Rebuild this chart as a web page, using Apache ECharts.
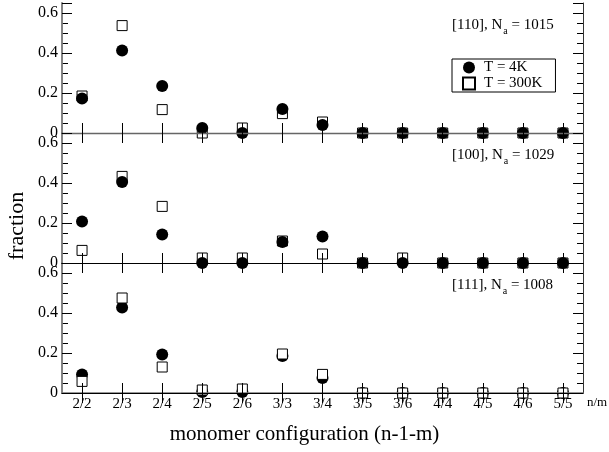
<!DOCTYPE html>
<html>
<head>
<meta charset="utf-8">
<script src="https://cdn.jsdelivr.net/npm/echarts@6/dist/echarts.min.js"></script>
<style>
  html, body { margin: 0; padding: 0; background: #fff; }
  #chart { width: 609px; height: 452px; }
</style>
</head>
<body>
<div id="chart"></div>
<script>
// Monomer configuration categories (n-1-m)
const categories = ['2/2', '2/3', '2/4', '2/5', '2/6', '3/3', '3/4', '3/5', '3/6', '4/4', '4/5', '4/6', '5/5'];

// [110] surface, Na = 1015
const f110_T4 = [0.173, 0.413, 0.235, 0.025, 0.0, 0.12, 0.04, 0, 0, 0, 0, 0, 0];
const f110_T300 = [0.185, 0.537, 0.117, 0.0, 0.025, 0.097, 0.055, 0, 0, 0, 0, 0, 0];
// [100] surface, Na = 1029
const f100_T4 = [0.208, 0.405, 0.143, 0, 0, 0.105, 0.132, 0, 0, 0, 0, 0, 0];
const f100_T300 = [0.063, 0.433, 0.283, 0.025, 0.025, 0.11, 0.045, 0, 0.025, 0, 0, 0, 0];
// [111] surface, Na = 1008
const f111_T4 = [0.092, 0.428, 0.193, 0.005, 0.005, 0.185, 0.075, 0, 0, 0, 0, 0, 0];
const f111_T300 = [0.058, 0.475, 0.13, 0.015, 0.02, 0.195, 0.093, 0, 0, 0, 0, 0, 0];

const panelLabels = ['[110], N', '[100], N', '[111], N'];
const panelCounts = ['1015', '1029', '1008'];
const yTicks = [0, 0.2, 0.4, 0.6];

const FONT = "'Liberation Serif', 'Times New Roman', serif";
const chart = echarts.init(document.getElementById('chart'));

const panels = [
  { t4: f110_T4, t300: f110_T300, circlesOnTop: true },
  { t4: f100_T4, t300: f100_T300, circlesOnTop: true },
  { t4: f111_T4, t300: f111_T300, circlesOnTop: false }
];

const gridTop = [3, 133, 263];
const gridH = 130;
const grids = [], xAxes = [], yAxes = [], series = [];

panels.forEach((p, i) => {
  grids.push({ left: 62, right: 26, top: gridTop[i], height: gridH });
  const last = i === 2;
  // bottom x axis
  xAxes.push({
    type: 'category', gridIndex: i, data: categories, position: 'bottom',
    boundaryGap: true,
    axisLine: { show: true, lineStyle: { color: last ? '#777' : '#000', width: last ? 1.6 : 1 } },
    axisTick: { show: true, inside: true, length: 10, alignWithLabel: true, lineStyle: { color: '#000' } },
    axisLabel: { show: last, color: '#000', fontFamily: FONT, fontSize: 15, margin: 4 },
    splitLine: { show: false }, z: 5
  });
  // top x axis (ticks only)
  xAxes.push({
    type: 'category', gridIndex: i, data: categories, position: 'top',
    boundaryGap: true,
    axisLine: { show: true, lineStyle: { color: i === 0 ? '#666' : '#000', width: i === 0 ? 1.4 : 1 } },
    axisTick: { show: true, inside: true, length: 10, alignWithLabel: true, lineStyle: { color: '#000' } },
    axisLabel: { show: false }, splitLine: { show: false }, z: 5
  });
  const major = (pos) => ({
    type: 'value', gridIndex: i, position: pos, min: 0, max: 0.65, interval: 0.2,
    axisLine: { show: true, lineStyle: { color: pos === 'left' ? '#777' : '#333', width: pos === 'left' ? 1.8 : 1 } },
    axisTick: { show: true, inside: true, length: 10, lineStyle: { color: '#000' } },
    axisLabel: {
      show: pos === 'left', color: '#000', fontFamily: FONT, fontSize: 16, margin: 4,
      formatter: (v) => {
        const hit = yTicks.find(t => Math.abs(t - v) < 1e-6);
        if (hit === undefined) return '';
        return hit === 0 ? '0' : hit.toFixed(1);
      }
    },
    splitLine: { show: false }, z: 5
  });
  const minor = (pos) => ({
    type: 'value', gridIndex: i, position: pos, min: 0, max: 0.65, interval: 0.05,
    axisLine: { show: false },
    axisTick: { show: true, inside: true, length: 6, lineStyle: { color: '#000' } },
    axisLabel: { show: false }, splitLine: { show: false }, z: 4
  });
  yAxes.push(major('left'), minor('left'), major('right'), minor('right'));

  const xi = i * 2, yi = i * 4;
  series.push({
    name: 'T = 4K', type: 'scatter', xAxisIndex: xi, yAxisIndex: yi,
    data: p.t4, symbol: 'circle', symbolSize: 12,
    itemStyle: { color: '#000', opacity: 1 },
    z: p.circlesOnTop ? 4 : 2, silent: true
  });
  series.push({
    name: 'T = 300K', type: 'scatter', xAxisIndex: xi, yAxisIndex: yi,
    data: p.t300, symbol: 'rect', symbolSize: 10,
    itemStyle: { color: '#fff', borderColor: '#000', borderWidth: 1, opacity: 1 },
    z: 3, silent: true
  });
});

const graphics = [];
gridTop.forEach((top, i) => {
  graphics.push({
    type: 'text', left: 452, top: top + 15,
    style: {
      text: '{m|' + panelLabels[i] + '}{s|a}{m| = ' + panelCounts[i] + '}',
      rich: {
        m: { fontFamily: FONT, fontSize: 15, fill: '#000' },
        s: { fontFamily: FONT, fontSize: 10, fill: '#000', padding: [11, 0, 0, 1] }
      }
    }
  });
});
graphics.push({
  type: 'text', left: 587, top: 396,
  style: { text: 'n/m', fontFamily: FONT, fontSize: 13, fill: '#000' }
});
graphics.push({
  type: 'text', left: 'center', top: 424,
  style: { text: 'monomer configuration (n-1-m)', fontFamily: FONT, fontSize: 21, fill: '#000' }
});
graphics.push({
  type: 'text', left: 6, top: 'middle', rotation: Math.PI / 2,
  style: { text: 'fraction', fontFamily: FONT, fontSize: 22, fill: '#000' }
});

chart.setOption({
  animation: false,
  backgroundColor: '#fff',
  grid: grids,
  xAxis: xAxes,
  yAxis: yAxes,
  series: series,
  legend: {
    data: ['T = 4K', 'T = 300K'],
    orient: 'vertical', left: 452, top: 59, width: 100,
    borderColor: '#000', borderWidth: 1, borderRadius: 0,
    padding: [1, 13, 1, 10], itemGap: 1, itemWidth: 12, itemHeight: 12,
    selectedMode: false,
    textStyle: { fontFamily: FONT, fontSize: 15, color: '#000', padding: [0, 0, 0, 4] }
  },
  graphic: graphics
});
</script>
</body>
</html>
